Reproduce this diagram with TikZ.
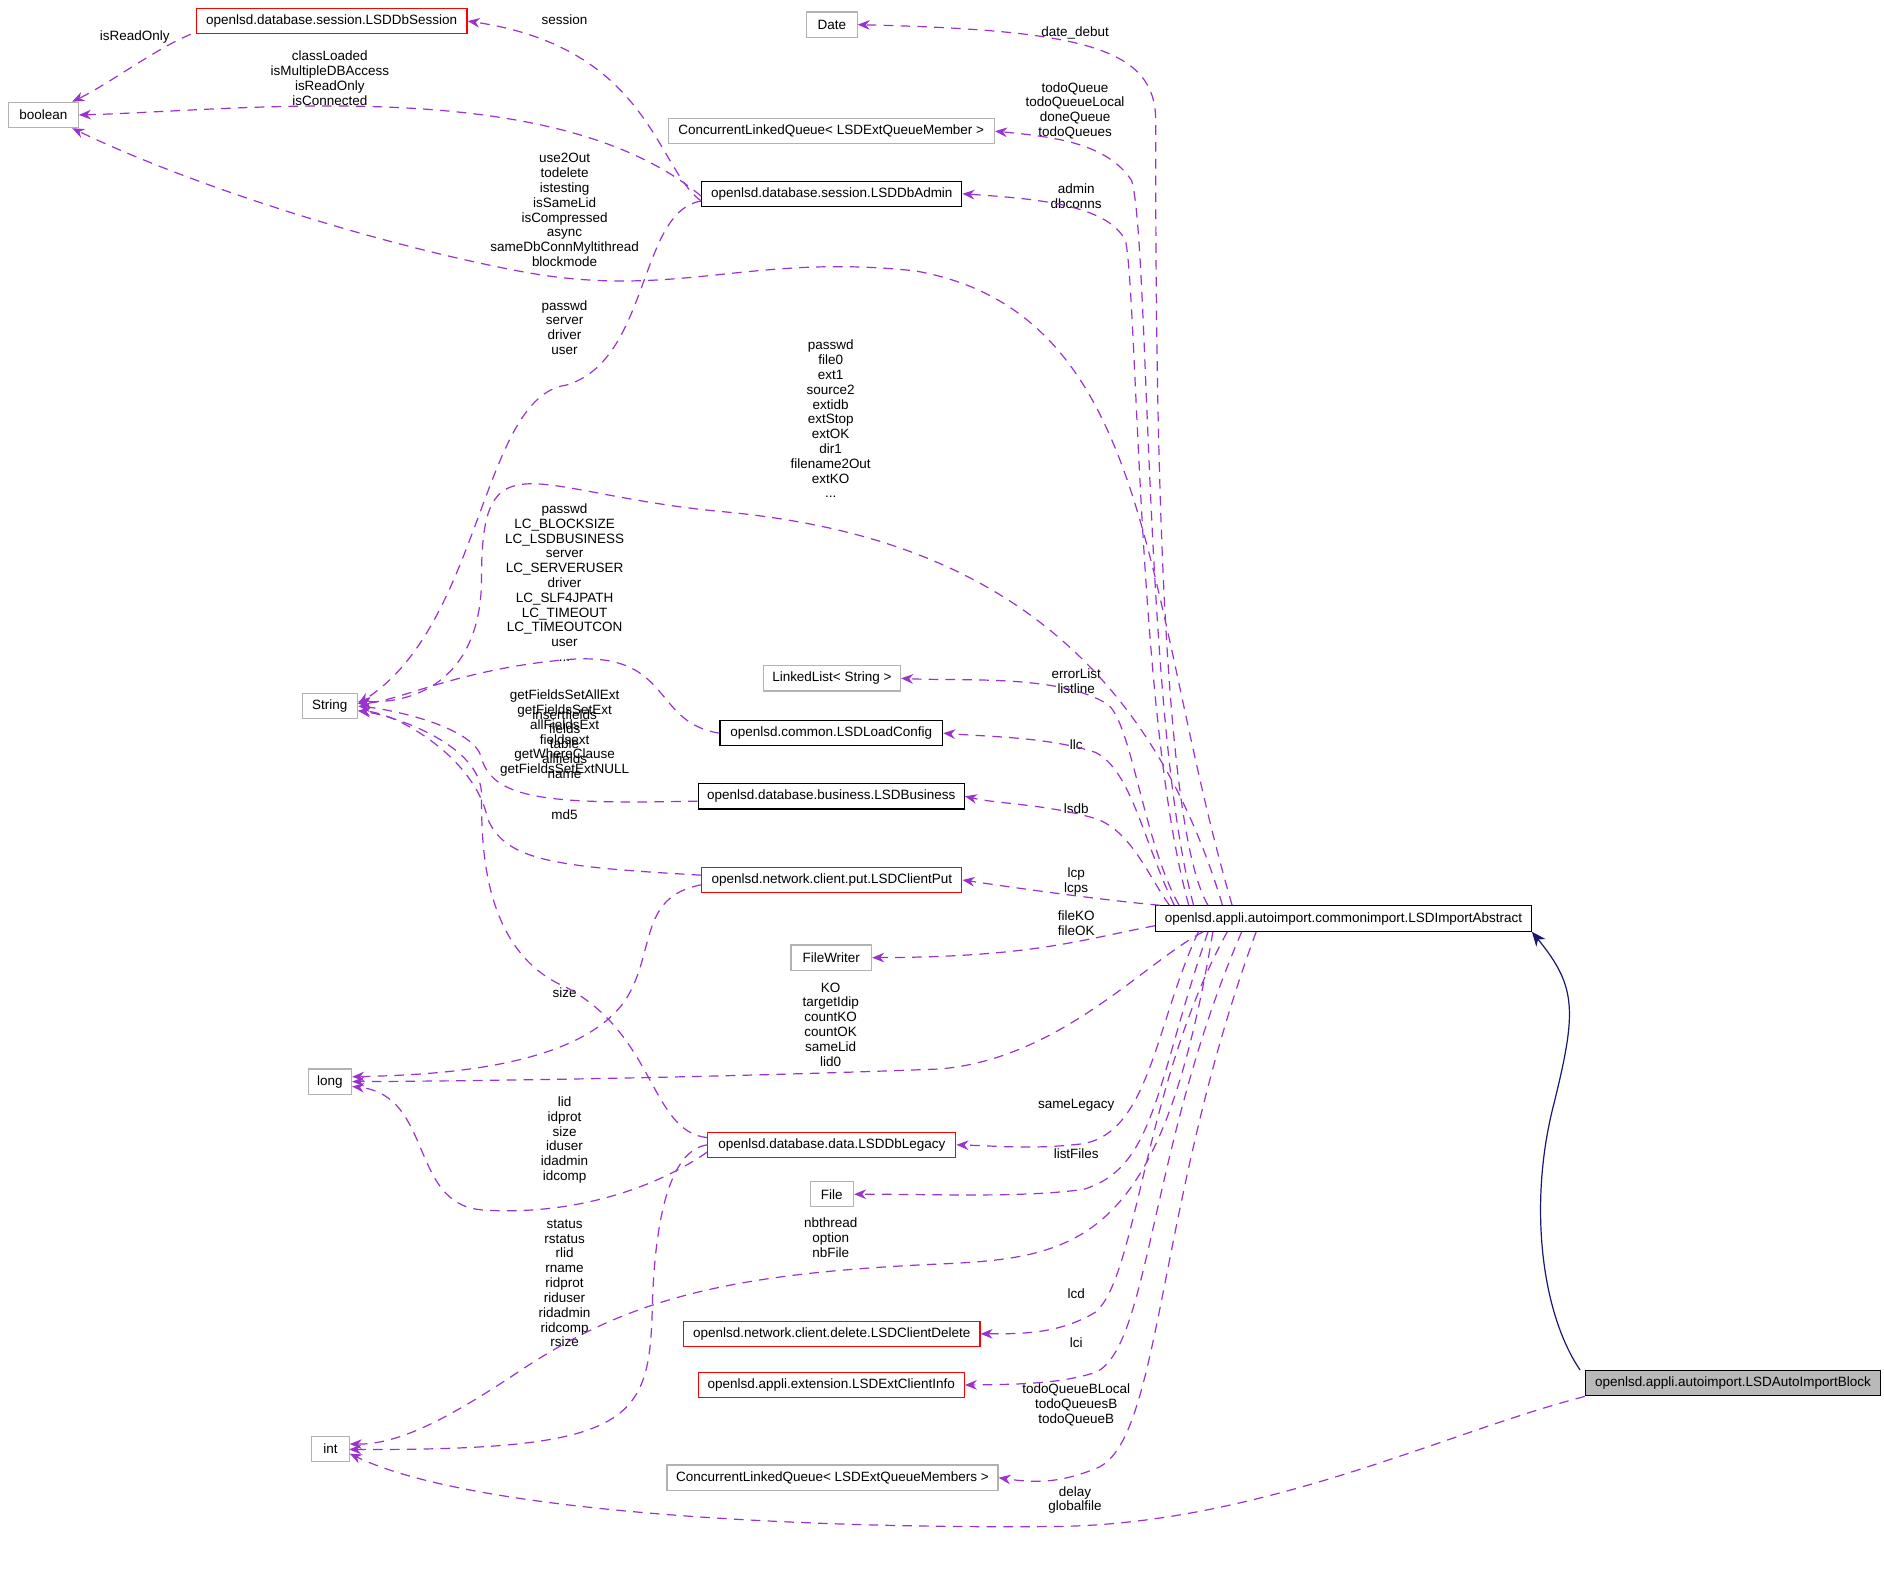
\documentclass[tikz,border=0pt]{standalone}
\usepackage{fontspec}
\setmainfont{Liberation Sans}
\usetikzlibrary{arrows.meta}
\definecolor{dep}{HTML}{9A32CD}
\definecolor{inh}{HTML}{191970}
\begin{document}
\begin{tikzpicture}[x=0.5pt,y=-0.5pt,
  every node/.style={font=\fontsize{5.6}{6.15}\selectfont, inner sep=0pt},
  box/.style={draw, minimum height=10.5pt, line width=0.5pt},
  gbox/.style={box, draw=gray!60},
  rbox/.style={box, draw=red},
  kbox/.style={box, draw=black},
  lab/.style={align=center},
  depl/.style={draw=dep, dashed, dash pattern=on 4pt off 3pt, line width=0.5pt, -{Stealth[length=5pt,width=4pt,fill=dep]}},
  inhl/.style={draw=inh, line width=0.5pt, -{Stealth[length=6pt,width=5pt,fill=inh]}}]
\useasboundingbox (0,0) rectangle (1565,1315);
% nodes
\node[rbox,minimum width=112.5pt] (sess) at (275.5,17.5) {openlsd.database.session.LSDDbSession};
\node[gbox,minimum width=29pt] (bool) at (36,95.5) {boolean};
\node[gbox,minimum width=21pt] (date) at (691,20.5) {Date};
\node[gbox,minimum width=135.5pt] (clq) at (690.5,109) {ConcurrentLinkedQueue< LSDExtQueueMember >};
\node[kbox,minimum width=108pt] (admin) at (691,161) {openlsd.database.session.LSDDbAdmin};
\node[gbox,minimum width=23pt] (str) at (274,586.5) {String};
\node[gbox,minimum width=57pt] (ll) at (691,563.5) {LinkedList< String >};
\node[kbox,minimum width=92.5pt] (llc) at (690.5,609) {openlsd.common.LSDLoadConfig};
\node[kbox,minimum width=110.5pt] (bus) at (690.5,661.5) {openlsd.database.business.LSDBusiness};
\node[rbox,minimum width=108pt] (put) at (691,731) {openlsd.network.client.put.LSDClientPut};
\node[gbox,minimum width=33.5pt] (fw) at (690.5,795.5) {FileWriter};
\node[kbox,minimum width=156pt] (abs) at (1116,763) {openlsd.appli.autoimport.commonimport.LSDImportAbstract};
\node[gbox,minimum width=18pt] (long) at (274,898.5) {long};
\node[rbox,minimum width=103pt] (leg) at (691,951) {openlsd.database.data.LSDDbLegacy};
\node[gbox,minimum width=18pt] (file) at (691,992) {File};
\node[rbox,minimum width=123pt] (del) at (691,1108) {openlsd.network.client.delete.LSDClientDelete};
\node[rbox,minimum width=110.5pt] (info) at (690.5,1150.5) {openlsd.appli.extension.LSDExtClientInfo};
\node[gbox,minimum width=15.5pt] (int) at (274.5,1203.5) {int};
\node[gbox,minimum width=137.5pt] (clqs) at (691.5,1227.5) {ConcurrentLinkedQueue< LSDExtQueueMembers >};
\node[box,fill=gray!55,minimum width=122.5pt] (blk) at (1439.5,1149) {openlsd.appli.autoimport.LSDAutoImportBlock};
% labels
\node[lab] (l1) at (112,31) {isReadOnly};
\node[lab] (l2) at (469,16) {session};
\node[lab] (l3) at (274,65) {classLoaded\\isMultipleDBAccess\\isReadOnly\\isConnected};
\node[lab] (l4) at (469,174.5) {use2Out\\todelete\\istesting\\isSameLid\\isCompressed\\async\\sameDbConnMyltithread\\blockmode};
\node[lab] (l5) at (469,272) {passwd\\server\\driver\\user};
\node[lab] (l6) at (690,348) {passwd\\file0\\ext1\\source2\\extidb\\extStop\\extOK\\dir1\\filename2Out\\extKO\\...};
\node[lab] (l7) at (469,484) {passwd\\LC\_BLOCKSIZE\\LC\_LSDBUSINESS\\server\\LC\_SERVERUSER\\driver\\LC\_SLF4JPATH\\LC\_TIMEOUT\\LC\_TIMEOUTCON\\user\\...};
\node[lab] (l8) at (469,609) {getFieldsSetAllExt\\getFieldsSetExt\\allFieldsExt\\fieldsext\\getWhereClause\\getFieldsSetExtNULL};
\node[lab] (l9) at (469,618) {insertfields\\fields\\table\\allfields\\name};
\node[lab] (l10) at (469,677) {md5};
\node[lab] (l11) at (469,825) {size};
\node[lab] (l12) at (690,851) {KO\\targetIdip\\countKO\\countOK\\sameLid\\lid0};
\node[lab] (l13) at (469,947) {lid\\idprot\\size\\iduser\\idadmin\\idcomp};
\node[lab] (l14) at (469,1066) {status\\rstatus\\rlid\\rname\\ridprot\\riduser\\ridadmin\\ridcomp\\rsize};
\node[lab] (l15) at (690,1028) {nbthread\\option\\nbFile};
\node[lab] (l16) at (893,1246) {delay\\globalfile};
\node[lab] (l17) at (893,27) {date\_debut};
\node[lab] (l18) at (893,92) {todoQueue\\todoQueueLocal\\doneQueue\\todoQueues};
\node[lab] (l19) at (894,163) {admin\\dbconns};
\node[lab] (l20) at (894,566) {errorList\\listline};
\node[lab] (l21) at (894,619) {llc};
\node[lab] (l22) at (894,672) {lsdb};
\node[lab] (l23) at (894,732) {lcp\\lcps};
\node[lab] (l24) at (894,767) {fileKO\\fileOK};
\node[lab] (l25) at (894,918) {sameLegacy};
\node[lab] (l26) at (894,958) {listFiles};
\node[lab] (l27) at (894,1075) {lcd};
\node[lab] (l28) at (894,1115) {lci};
\node[lab] (l29) at (894,1167) {todoQueueBLocal\\todoQueuesB\\todoQueueB};
% inheritance
\draw[inhl] ([xshift=-2pt]blk.north west) .. controls (1280,1090) and (1270,1000) .. (1290,920) .. controls (1310,840) and (1310,820) .. (abs.south east);
% dependencies
\draw[depl] ([xshift=-2pt]sess.south west) .. controls (130,40) and (90,70) .. ([xshift=12pt]bool.north);
\draw[depl] ([yshift=-3pt]admin.west) .. controls (545,140) and (540,40) .. (sess.east);
\draw[depl] ([yshift=-1pt]admin.west) .. controls (460,60) and (200,92) .. (bool.east);
\draw[depl] ([xshift=32pt]abs.north west) .. controls (950,500) and (960,260) .. (760,225) .. controls (620,210) and (560,250) .. (430,225) .. controls (300,200) and (150,150) .. ([xshift=12pt]bool.south);
\draw[depl] ([yshift=-3pt]admin.west) .. controls (530,175) and (540,300) .. (470,320) .. controls (400,330) and (400,520) .. ([yshift=1pt]str.east);
\draw[depl] ([xshift=28pt]abs.north west) .. controls (940,500) and (760,440) .. (600,425) .. controls (440,410) and (400,360) .. (400,480) .. controls (400,560) and (350,585) .. ([yshift=2pt]str.east);
\draw[depl] (llc.west) .. controls (540,600) and (560,540) .. (470,548) .. controls (380,556) and (330,583) .. ([yshift=1pt]str.east);
\draw[depl] ([yshift=-2pt]bus.west) .. controls (460,668) and (410,665) .. (400,630) .. controls (395,605) and (330,590) .. (str.east);
\draw[depl] ([yshift=2pt]put.west) .. controls (460,720) and (420,715) .. (405,680) .. controls (395,630) and (330,592) .. ([yshift=-2pt]str.east);
\draw[depl] ([yshift=3pt]leg.west) .. controls (540,940) and (545,860) .. (470,820) .. controls (400,790) and (400,700) .. (400,660) .. controls (400,620) and (330,595) .. ([yshift=-2pt]str.east);
\draw[depl] ([yshift=-2pt]put.west) .. controls (530,745) and (545,790) .. (520,830) .. controls (480,890) and (350,893) .. ([yshift=2pt]long.east);
\draw[depl] ([xshift=20pt]abs.south west) .. controls (950,800) and (880,880) .. (780,888) .. controls (600,895) and (400,898) .. (long.east);
\draw[depl] ([yshift=-3pt]leg.west) .. controls (540,990) and (470,1010) .. (400,1005) .. controls (340,1000) and (360,910) .. ([yshift=-2pt]long.east);
\draw[depl] (leg.west) .. controls (560,955) and (545,1000) .. (542,1080) .. controls (540,1180) and (530,1205) .. (290,1204);
\draw[depl] ([xshift=24pt]abs.south west) .. controls (965,1030) and (900,1045) .. (780,1050) .. controls (600,1058) and (520,1080) .. (430,1140) .. controls (370,1180) and (330,1200) .. ([yshift=2pt]int.east);
\draw[depl] (blk.south west) .. controls (1200,1190) and (1050,1265) .. (880,1268) .. controls (700,1270) and (400,1260) .. ([yshift=-2pt]int.east);
% to right column
\draw[depl] ([xshift=22pt]abs.north west) .. controls (960,680) and (960,260) .. (960,100) .. controls (960,40) and (900,25) .. (date.east);
\draw[depl] ([xshift=16pt]abs.north west) .. controls (950,600) and (955,200) .. (940,150) .. controls (920,120) and (880,114) .. (clq.east);
\draw[depl] ([xshift=14pt]abs.north west) .. controls (945,600) and (945,250) .. (935,200) .. controls (920,170) and (860,165) .. (admin.east);
\draw[depl] ([xshift=10pt]abs.north west) .. controls (950,700) and (940,600) .. (920,585) .. controls (880,560) and (800,566) .. (ll.east);
\draw[depl] ([xshift=8pt]abs.north west) .. controls (950,700) and (940,640) .. (910,625) .. controls (870,612) and (820,612) .. (llc.east);
\draw[depl] ([xshift=6pt]abs.north west) .. controls (955,730) and (940,690) .. (910,680) .. controls (870,668) and (830,668) .. (bus.east);
\draw[depl] ([xshift=2pt]abs.north west) .. controls (920,748) and (860,740) .. (put.east);
\draw[depl] ([yshift=-3pt]abs.west) .. controls (900,780) and (860,795) .. (fw.east);
\draw[depl] ([xshift=18pt]abs.south west) .. controls (960,850) and (955,940) .. (900,950) .. controls (860,955) and (830,952) .. (leg.east);
\draw[depl] ([xshift=22pt]abs.south west) .. controls (960,900) and (960,970) .. (900,988) .. controls (850,995) and (780,992) .. (file.east);
\draw[depl] ([xshift=30pt]abs.south west) .. controls (950,900) and (945,1060) .. (910,1090) .. controls (880,1108) and (850,1108) .. (del.east);
\draw[depl] ([xshift=36pt]abs.south west) .. controls (955,950) and (955,1120) .. (910,1140) .. controls (880,1150) and (840,1150) .. (info.east);
\draw[depl] ([xshift=42pt]abs.south west) .. controls (960,1000) and (965,1200) .. (910,1220) .. controls (880,1232) and (860,1232) .. (clqs.east);
\end{tikzpicture}
\end{document}
